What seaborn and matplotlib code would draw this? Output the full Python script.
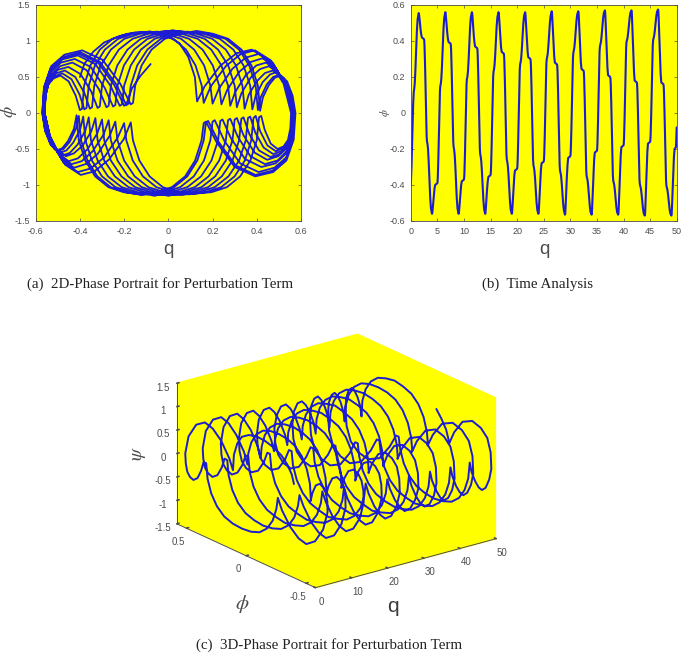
import matplotlib
matplotlib.use('Agg')
import matplotlib.pyplot as plt
import seaborn as sns

# sample times, one row per half swing of the orbit
t_vals = [
    0, .05, .1, .16, .22, .28, .34, .4, .46, .52, .58, .65, .76, .88, .97, 1.06, 1.16, 1.3,
    1.5, 1.55, 1.6, 1.67, 1.75, 1.86, 1.98, 2.1, 2.5, 2.55, 2.6, 2.65, 2.7, 2.75, 2.8, 2.85, 2.9, 2.95, 3, 3.07, 3.15, 3.26, 3.38, 3.47, 3.56, 3.66, 3.8,
    4, 4.05, 4.1, 4.17, 4.25, 4.36, 4.48, 4.6, 5, 5.05, 5.1, 5.15, 5.2, 5.25, 5.3, 5.35, 5.4, 5.45, 5.5, 5.57, 5.65, 5.76, 5.88, 5.97, 6.06, 6.16, 6.3,
    6.5, 6.55, 6.6, 6.67, 6.75, 6.86, 6.98, 7.1, 7.5, 7.55, 7.6, 7.65, 7.7, 7.75, 7.8, 7.85, 7.9, 7.95, 8, 8.07, 8.15, 8.26, 8.38, 8.47, 8.56, 8.66, 8.8,
    9, 9.05, 9.1, 9.17, 9.25, 9.36, 9.48, 9.6, 10, 10.05, 10.1, 10.15, 10.2, 10.25, 10.3, 10.35, 10.4, 10.45, 10.5, 10.57, 10.65, 10.76, 10.88, 10.97, 11.06, 11.16, 11.3,
    11.5, 11.55, 11.6, 11.67, 11.75, 11.86, 11.98, 12.1, 12.5, 12.55, 12.6, 12.65, 12.7, 12.75, 12.8, 12.85, 12.9, 12.95, 13, 13.07, 13.15, 13.26, 13.38, 13.47, 13.56, 13.66, 13.8,
    14, 14.05, 14.1, 14.17, 14.25, 14.36, 14.48, 14.6, 15, 15.05, 15.1, 15.15, 15.2, 15.25, 15.3, 15.35, 15.4, 15.45, 15.5, 15.57, 15.65, 15.76, 15.88, 15.97, 16.06, 16.16, 16.3,
    16.5, 16.55, 16.6, 16.67, 16.75, 16.86, 16.98, 17.1, 17.5, 17.55, 17.6, 17.65, 17.7, 17.75, 17.8, 17.85, 17.9, 17.95, 18, 18.07, 18.15, 18.26, 18.38, 18.47, 18.56, 18.66, 18.8,
    19, 19.05, 19.1, 19.17, 19.25, 19.36, 19.48, 19.6, 20, 20.05, 20.1, 20.15, 20.2, 20.25, 20.3, 20.35, 20.4, 20.45, 20.5, 20.57, 20.65, 20.76, 20.88, 20.97, 21.06, 21.16, 21.3,
    21.5, 21.55, 21.6, 21.67, 21.75, 21.86, 21.98, 22.1, 22.5, 22.55, 22.6, 22.65, 22.7, 22.75, 22.8, 22.85, 22.9, 22.95, 23, 23.07, 23.15, 23.26, 23.38, 23.47, 23.56, 23.66, 23.8,
    24, 24.05, 24.1, 24.17, 24.25, 24.36, 24.48, 24.6, 25, 25.05, 25.1, 25.15, 25.2, 25.25, 25.3, 25.35, 25.4, 25.45, 25.5, 25.57, 25.65, 25.76, 25.88, 25.97, 26.06, 26.16, 26.3,
    26.5, 26.55, 26.6, 26.67, 26.75, 26.86, 26.98, 27.1, 27.5, 27.55, 27.6, 27.65, 27.7, 27.75, 27.8, 27.85, 27.9, 27.95, 28, 28.07, 28.15, 28.26, 28.38, 28.47, 28.56, 28.66, 28.8,
    29, 29.05, 29.1, 29.17, 29.25, 29.36, 29.48, 29.6, 30, 30.05, 30.1, 30.15, 30.2, 30.25, 30.3, 30.35, 30.4, 30.45, 30.5, 30.57, 30.65, 30.76, 30.88, 30.97, 31.06, 31.16, 31.3,
    31.5, 31.55, 31.6, 31.67, 31.75, 31.86, 31.98, 32.1, 32.5, 32.55, 32.6, 32.65, 32.7, 32.75, 32.8, 32.85, 32.9, 32.95, 33, 33.07, 33.15, 33.26, 33.38, 33.47, 33.56, 33.66, 33.8,
    34, 34.05, 34.1, 34.17, 34.25, 34.36, 34.48, 34.6, 35, 35.05, 35.1, 35.15, 35.2, 35.25, 35.3, 35.35, 35.4, 35.45, 35.5, 35.57, 35.65, 35.76, 35.88, 35.97, 36.06, 36.16, 36.3,
    36.5, 36.55, 36.6, 36.67, 36.75, 36.86, 36.98, 37.1, 37.5, 37.55, 37.6, 37.65, 37.7, 37.75, 37.8, 37.85, 37.9, 37.95, 38, 38.07, 38.15, 38.26, 38.38, 38.47, 38.56, 38.66, 38.8,
    39, 39.05, 39.1, 39.17, 39.25, 39.36, 39.48, 39.6, 40, 40.05, 40.1, 40.15, 40.2, 40.25, 40.3, 40.35, 40.4, 40.45, 40.5, 40.57, 40.65, 40.76, 40.88, 40.97, 41.06, 41.16, 41.3,
    41.5, 41.55, 41.6, 41.67, 41.75, 41.86, 41.98, 42.1, 42.5, 42.55, 42.6, 42.65, 42.7, 42.75, 42.8, 42.85, 42.9, 42.95, 43, 43.07, 43.15, 43.26, 43.38, 43.47, 43.56, 43.66, 43.8,
    44, 44.05, 44.1, 44.17, 44.25, 44.36, 44.48, 44.6, 45, 45.05, 45.1, 45.15, 45.2, 45.25, 45.3, 45.35, 45.4, 45.45, 45.5, 45.57, 45.65, 45.76, 45.88, 45.97, 46.06, 46.16, 46.3,
    46.5, 46.55, 46.6, 46.67, 46.75, 46.86, 46.98, 47.1, 47.5, 47.55, 47.6, 47.65, 47.7, 47.75, 47.8, 47.85, 47.9, 47.95, 48, 48.07, 48.15, 48.26, 48.38, 48.47, 48.56, 48.66, 48.8,
    49, 49.05, 49.1, 49.17, 49.25, 49.36, 49.48, 49.6, 49.85, 49.9, 49.95, 50,
]

q_vals = [
    -.40, -.38, -.34, -.29, -.22, -.15, -.08, -.01, .05, .09, .12, .13, .164, .236, .309, .377, .453, .521,
    .555, .552, .541, .521, .494, .463, .436, .42, .41, .40, .371, .325, .265, .195, .12, .045, -.025, -.085, -.131, -.16, -.17, -.201, -.268, -.334, -.396, -.466, -.529,
    -.56, -.557, -.544, -.52, -.488, -.451, -.419, -.40, -.39, -.381, -.353, -.31, -.252, -.186, -.115, -.044, .023, .08, .123, .151, .16, .192, .26, .328, .392, .464, .528,
    .56, .557, .543, .519, .486, .448, .415, .395, .385, .375, .346, .30, .239, .168, .092, .017, -.054, -.115, -.161, -.19, -.20, -.229, -.29, -.351, -.409, -.474, -.531,
    -.56, -.556, -.542, -.515, -.479, -.438, -.402, -.38, -.37, -.36, -.332, -.287, -.227, -.159, -.085, -.011, .058, .117, .162, .19, .20, .229, .29, .351, .409, .474, .531,
    .56, .556, .541, .512, .474, .431, .393, .37, .36, .35, .32, .272, .21, .137, .06, -.017, -.09, -.152, -.20, -.23, -.24, -.266, -.32, -.374, -.426, -.483, -.534,
    -.56, -.556, -.539, -.509, -.468, -.421, -.38, -.355, -.345, -.335, -.306, -.26, -.199, -.128, -.052, .023, .094, .155, .201, .23, .24, .266, .32, .374, .426, .483, .534,
    .56, .556, .538, .505, .461, .41, .366, .34, .33, .32, .29, .242, .18, .107, .03, -.047, -.12, -.182, -.23, -.26, -.27, -.293, -.342, -.392, -.438, -.49, -.537,
    -.56, -.555, -.536, -.50, -.452, -.397, -.349, -.32, -.31, -.30, -.27, -.224, -.162, -.091, -.015, .061, .133, .194, .24, .27, .28, .302, .35, .398, .442, .493, .538,
    .56, .555, .535, .497, .447, .39, .34, .31, .30, .29, .26, .212, .15, .077, 0, -.077, -.15, -.212, -.26, -.29, -.30, -.321, -.365, -.409, -.451, -.498, -.539,
    -.56, -.554, -.532, -.49, -.434, -.37, -.314, -.28, -.27, -.26, -.231, -.185, -.125, -.055, .02, .095, .165, .225, .271, .30, .31, .33, .372, .415, .455, .50, .54,
    .565, .559, .536, .494, .437, .371, .314, .28, .27, .26, .23, .182, .12, .047, -.03, -.107, -.18, -.242, -.29, -.32, -.33, -.348, -.387, -.427, -.463, -.505, -.542,
    -.565, -.559, -.533, -.486, -.423, -.351, -.288, -.25, -.24, -.23, -.201, -.155, -.094, -.023, .053, .128, .199, .26, .306, .335, .345, .363, .40, .437, .473, .512, .547,
    .565, .559, .533, .485, .421, .347, .283, .245, .235, .225, .195, .148, .086, .014, -.063, -.139, -.211, -.273, -.32, -.35, -.36, -.376, -.411, -.446, -.479, -.516, -.549,
    -.565, -.558, -.53, -.479, -.41, -.33, -.261, -.22, -.21, -.20, -.17, -.124, -.062, .009, .085, .161, .233, .294, .34, .37, .38, .395, .427, .46, .49, .524, .555,
    .57, .563, .534, .48, .408, .325, .253, .21, .20, .19, .161, .115, .054, -.017, -.093, -.168, -.239, -.30, -.346, -.375, -.385, -.399, -.43, -.461, -.489, -.522, -.551,
    -.565, -.557, -.527, -.471, -.396, -.31, -.235, -.19, -.18, -.17, -.141, -.095, -.034, .037, .113, .188, .259, .32, .366, .395, .405, .418, .446, .474, .501, .53, .557,
    .57, .562, .531, .472, .394, .305, .227, .18, .17, .16, .131, .086, .026, -.043, -.118, -.192, -.261, -.321, -.366, -.395, -.405, -.418, -.446, -.474, -.501, -.53, -.557,
    -.57, -.562, -.53, -.47, -.39, -.298, -.218, -.17, -.16, -.15, -.121, -.076, -.016, .053, .128, .202, .271, .331, .376, .405, .415, .428, .455, .482, .508, .537, .562,
    .575, .567, .534, .474, .393, .30, .219, .17, .16, .15, .121, .076, .016, -.053, -.128, -.202, -.271, -.331, -.376, -.405, -.415, -.427, -.454, -.48, -.505, -.533, -.558,
    -.57, -.563, -.533, -.477, -.403, -.318, -.244, -.20, -.19, -.165, -.125, -.08,
]

phi_vals = [
    .50, .68, .85, .98, 1.07, 1.12, 1.13, 1.08, .97, .78, .50, .16, .37, .66, .83, .88, .74, .41,
    0, -.21, -.375, -.465, -.50, -.425, -.235, -.04, -.06, -.38, -.66, -.88, -1.03, -1.10, -1.12, -1.10, -1.03, -.88, -.66, -.38, -.13, -.36, -.645, -.81, -.86, -.72, -.40,
    0, .22, .39, .48, .52, .44, .24, .04, .06, .38, .66, .88, 1.03, 1.10, 1.12, 1.10, 1.03, .88, .66, .38, .14, .37, .65, .82, .87, .73, .41,
    0, -.22, -.40, -.49, -.53, -.45, -.25, -.04, -.07, -.38, -.66, -.88, -1.03, -1.10, -1.13, -1.10, -1.03, -.88, -.66, -.38, -.14, -.34, -.615, -.77, -.82, -.69, -.385,
    0, .23, .41, .51, .55, .47, .26, .05, .07, .38, .66, .88, 1.03, 1.10, 1.13, 1.10, 1.03, .88, .66, .38, .13, .34, .615, .77, .82, .69, .385,
    0, -.24, -.43, -.53, -.57, -.48, -.27, -.05, -.07, -.38, -.66, -.88, -1.03, -1.10, -1.14, -1.10, -1.03, -.88, -.66, -.38, -.12, -.32, -.57, -.71, -.76, -.64, -.36,
    0, .25, .44, .55, .59, .50, .28, .06, .08, .38, .66, .88, 1.03, 1.10, 1.13, 1.10, 1.03, .88, .66, .38, .12, .32, .57, .71, .76, .64, .36,
    0, -.26, -.46, -.57, -.61, -.52, -.29, -.06, -.08, -.38, -.66, -.88, -1.03, -1.10, -1.14, -1.10, -1.03, -.88, -.66, -.38, -.10, -.30, -.53, -.67, -.71, -.60, -.33,
    0, .27, .48, .60, .64, .54, .30, .07, .09, .38, .66, .88, 1.03, 1.10, 1.14, 1.10, 1.03, .88, .66, .38, .10, .29, .525, .66, .70, .59, .33,
    0, -.27, -.49, -.60, -.65, -.55, -.31, -.07, -.09, -.38, -.66, -.88, -1.03, -1.10, -1.15, -1.10, -1.03, -.88, -.66, -.38, -.09, -.28, -.50, -.63, -.67, -.56, -.31,
    0, .29, .525, .65, .70, .595, .33, .08, .10, .38, .66, .88, 1.03, 1.10, 1.15, 1.10, 1.03, .88, .66, .38, .08, .27, .49, .61, .65, .55, .31,
    0, -.30, -.53, -.66, -.71, -.60, -.33, -.08, -.10, -.38, -.66, -.88, -1.03, -1.10, -1.14, -1.10, -1.03, -.88, -.66, -.38, -.07, -.25, -.45, -.56, -.60, -.50, -.28,
    0, .315, .56, .70, .75, .64, .35, .09, .11, .38, .66, .88, 1.03, 1.10, 1.14, 1.10, 1.03, .88, .66, .38, .06, .25, .44, .555, .59, .50, .28,
    0, -.315, -.56, -.70, -.75, -.64, -.35, -.09, -.11, -.38, -.66, -.88, -1.03, -1.10, -1.15, -1.10, -1.03, -.88, -.66, -.38, -.06, -.25, -.44, -.555, -.59, -.50, -.28,
    0, .335, .60, .745, .80, .68, .375, .10, .12, .38, .66, .88, 1.03, 1.10, 1.13, 1.10, 1.03, .88, .66, .38, .05, .24, .43, .535, .57, .48, .27,
    0, -.345, -.615, -.76, -.82, -.70, -.385, -.10, -.12, -.38, -.66, -.88, -1.03, -1.10, -1.13, -1.10, -1.03, -.88, -.66, -.38, -.05, -.23, -.41, -.52, -.55, -.46, -.26,
    0, .35, .63, .78, .84, .71, .395, .11, .13, .38, .66, .88, 1.03, 1.10, 1.12, 1.10, 1.03, .88, .66, .38, .04, .22, .40, .50, .53, .445, .25,
    0, -.36, -.645, -.80, -.86, -.73, -.40, -.11, -.13, -.38, -.66, -.88, -1.03, -1.10, -1.14, -1.10, -1.03, -.88, -.66, -.38, -.04, -.22, -.40, -.50, -.53, -.445, -.25,
    0, .365, .65, .81, .87, .74, .41, .12, .14, .38, .66, .88, 1.03, 1.10, 1.14, 1.10, 1.03, .88, .66, .38, .03, .22, .39, .49, .52, .44, .24,
    0, -.37, -.66, -.82, -.88, -.75, -.41, -.12, -.14, -.38, -.66, -.88, -1.03, -1.10, -1.13, -1.10, -1.03, -.88, -.66, -.38, -.03, -.22, -.39, -.49, -.52, -.44, -.24,
    0, .34, .615, .76, .82, .70, .385, .10, .12, .34, .52, .68,
]

a_xticks = [-0.6, -0.4, -0.2, 0, 0.2, 0.4, 0.6]
a_xlabels = ['-0.6', '-0.4', '-0.2', '0', '0.2', '0.4', '0.6']
a_yticks = [-1.5, -1, -0.5, 0, 0.5, 1, 1.5]
a_ylabels = ['-1.5', '-1', '-0.5', '0', '0.5', '1', '1.5']
b_xticks = [0, 5, 10, 15, 20, 25, 30, 35, 40, 45, 50]
b_yticks = [-0.6, -0.4, -0.2, 0, 0.2, 0.4, 0.6]
b_ylabels = ['-0.6', '-0.4', '-0.2', '0', '0.2', '0.4', '0.6']
c_xticks = [0, 10, 20, 30, 40, 50]
c_yticks = [-0.5, 0, 0.5]
c_ylabels = ['-0.5', '0', '0.5']

yellow = '#ffff00'
blue = '#1c1cd2'
grey = '#4d4d4d'

sns.set_theme(style='ticks', rc={'axes.facecolor': yellow, 'axes.unicode_minus': False})
plt.rcParams['font.family'] = ['Liberation Sans', 'DejaVu Sans']
plt.rcParams['mathtext.fontset'] = 'stix'

fig = plt.figure(figsize=(6.85, 6.54), dpi=100)


def add_2d(left, right, top, bottom):
    ax = fig.add_axes([left / 685, 1 - bottom / 654, (right - left) / 685, (bottom - top) / 654])
    for side in ax.spines.values():
        side.set_linewidth(0.6)
        side.set_color(grey)
    ax.tick_params(direction='in', length=2, width=0.5, labelsize=6.5, colors=grey, pad=4,
                   top=True, right=True)
    return ax


# (a) phase portrait
ax1 = add_2d(35.7, 301, 5, 221)
sns.lineplot(x=q_vals, y=phi_vals, sort=False, estimator=None, color=blue, linewidth=1.3, ax=ax1)
ax1.set_xlim(-0.6, 0.6)
ax1.set_ylim(-1.5, 1.5)
ax1.set_xticks(a_xticks, a_xlabels)
ax1.set_yticks(a_yticks, a_ylabels)

# (b) time series
ax2 = add_2d(410.7, 676.7, 5, 221)
sns.lineplot(x=t_vals, y=q_vals, sort=False, estimator=None, color=blue, linewidth=1.5, ax=ax2)
ax2.set_xlim(0, 50)
ax2.set_ylim(-0.6, 0.6)
ax2.set_xticks(b_xticks, [str(v) for v in b_xticks])
ax2.set_yticks(b_yticks, b_ylabels)

# (c) 3d view, only the hexagon of back walls is yellow
ax3 = fig.add_axes([0.134, 0.0076, 0.7, 0.56], projection='3d', proj_type='ortho')
ax3.patch.set_alpha(0)
ax3.view_init(elev=20.7, azim=-127.5)
ax3.set_box_aspect((1, 1, 0.66), zoom=0.942)
ax3.plot(t_vals, q_vals, phi_vals, color=blue, linewidth=1.4)
ax3.set_xlim(0, 50, view_margin=0)
ax3.set_ylim(-0.58, 0.58, view_margin=0)
ax3.set_zlim(-1.5, 1.5, view_margin=0)
ax3.set_xticks(c_xticks, [str(v) for v in c_xticks])
ax3.set_yticks(c_yticks, c_ylabels)
ax3.set_zticks(a_yticks, a_ylabels)
ax3.grid(False)
for axis in (ax3.xaxis, ax3.yaxis, ax3.zaxis):
    axis.set_pane_color(yellow)
    axis.pane.set_edgecolor(yellow)
    axis.line.set_color(grey)
    axis.line.set_linewidth(0.7)
    axis._axinfo['tick']['inward_factor'] = 0.0
    axis._axinfo['tick']['outward_factor'] = 0.15
ax3.tick_params(labelsize=7, colors=grey, pad=-2)

# axis names and captions
fig.text(168 / 685, 1 - 250 / 654, 'q', fontsize=13.5, color=grey, ha='center', va='center')
fig.text(9 / 685, 1 - 112 / 654, r'$\phi$', fontsize=13, color=grey, rotation=90, ha='center', va='center')
fig.text(544 / 685, 1 - 250 / 654, 'q', fontsize=13.5, color=grey, ha='center', va='center')
fig.text(385 / 685, 1 - 113 / 654, r'$\phi$', fontsize=8, color=grey, rotation=90, ha='center', va='center')
fig.text(393 / 685, 1 - 607 / 654, 'q', fontsize=15, color='#3c3c3c', ha='center', va='center')
fig.text(242 / 685, 1 - 604 / 654, r'$\phi$', fontsize=15, color=grey, ha='center', va='center')
fig.text(140 / 685, 1 - 453 / 654, r'$\psi$', fontsize=14, color=grey, rotation=90, ha='center', va='center')

for x, y, caption in [(160.5, 284, '(a)  2D-Phase Portrait for Perturbation Term'),
                      (537.5, 284, '(b)  Time Analysis'),
                      (329, 645, '(c)  3D-Phase Portrait for Perturbation Term')]:
    fig.text(x / 685, 1 - y / 654, caption, fontsize=10.8, color='#222222', ha='center', va='center',
             family='Liberation Serif')

fig.savefig('out.png', dpi=100)
